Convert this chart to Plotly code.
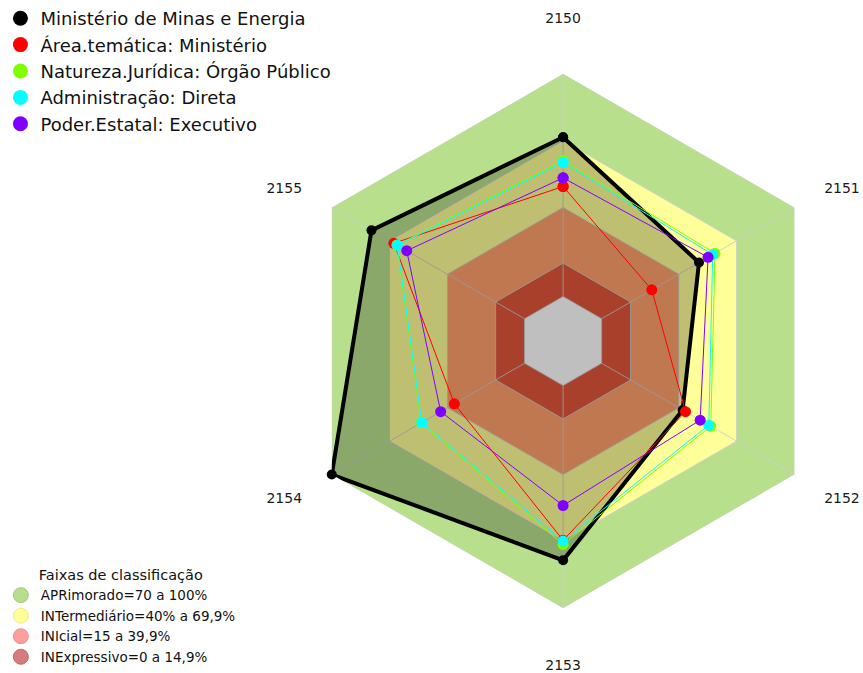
import plotly.graph_objects as go

# ---------------- data ----------------
categories = ['2150', '2151', '2152', '2153', '2154', '2155']
# labels shown by each of the two overlaid angular axes (blank = shown by the other one)
side_labels = ['', '2151', '2152', '', '2154', '2155']
vertical_labels = ['2150', '', '', '2153', '', '']

series_names = [
    'Ministério de Minas e Energia',
    'Área.temática: Ministério',
    'Natureza.Jurídica: Órgão Público',
    'Administração: Direta',
    'Poder.Estatal: Executivo',
]
minas = [71.5, 50.5, 42.0, 78.5, 100.0, 79.4]
area_tematica = [49.4, 26.0, 43.5, 69.5, 36.4, 67.8]
natureza = [61.0, 58.8, 56.6, 71.4, 53.6, 66.2]
administracao = [60.3, 57.6, 55.6, 69.9, 53.3, 66.0]
poder = [53.3, 55.2, 51.1, 53.9, 43.5, 61.1]
series_values = [minas, area_tematica, natureza, administracao, poder]
series_colors = ['#000000', '#FF0000', '#80FF00', '#00FFFF', '#8000FF']

band_names = ['APRimorado=70 a 100%', 'INTermediário=40% a 69,9%',
              'INIcial=15 a 39,9%', 'INExpressivo=0 a 14,9%']
band_upper = [100, 70, 40, 15, 0]
band_fill = ['#B8E08C', '#FFFF99', '#FFA06B', '#E0563B', '#FFFFFF']
band_legend_colors = ['#B6DE8C', '#FFFF99', '#FF9E9E', '#D67C7C']
band_legend_lines = ['#A3CC7A', '#EDED8A', '#EE8E8E', '#C06A6A']
grid_levels = [0, 15, 40, 70, 100]
radial_range = [-20, 100]

FONT = 'DejaVu Sans, Liberation Sans, Arial, sans-serif'


def closed(vals):
    return list(vals) + [vals[0]]


theta_closed = closed(categories)

fig = go.Figure()

# bands (outer to inner, opaque)
for up, col in zip(band_upper, band_fill):
    fig.add_trace(go.Scatterpolar(
        r=closed([up] * len(categories)), theta=theta_closed,
        mode='lines', fill='toself', fillcolor=col,
        line=dict(width=0, color=col), showlegend=False, hoverinfo='skip'))

# grid polygons
for lv in grid_levels:
    fig.add_trace(go.Scatterpolar(
        r=closed([lv] * len(categories)), theta=theta_closed,
        mode='lines', line=dict(width=1, color='rgba(205,205,205,0.9)'),
        showlegend=False, hoverinfo='skip'))

# spokes
for c in categories:
    fig.add_trace(go.Scatterpolar(
        r=[grid_levels[0], grid_levels[-1]], theta=[c, c],
        mode='lines', line=dict(width=1, color='rgba(205,205,205,0.9)'),
        showlegend=False, hoverinfo='skip'))

# series
for i, (name, vals, col) in enumerate(zip(series_names, series_values, series_colors)):
    if i == 0:
        fig.add_trace(go.Scatterpolar(
            r=closed(vals), theta=theta_closed, mode='lines+markers',
            fill='toself', fillcolor='rgba(0,0,0,0.25)',
            line=dict(color=col, width=4), marker=dict(size=10, color=col),
            showlegend=False, name=name))
    else:
        fig.add_trace(go.Scatterpolar(
            r=closed(vals), theta=theta_closed, mode='lines+markers',
            line=dict(color=col, width=1), marker=dict(size=11, color=col),
            showlegend=False, name=name))

# empty trace so the second (label-only) polar subplot is drawn
fig.add_trace(go.Scatterpolar(r=[None], theta=[categories[0]], subplot='polar2',
                              mode='markers', showlegend=False, hoverinfo='skip'))

# legend-only entries for series
for name, col in zip(series_names, series_colors):
    fig.add_trace(go.Scatterpolar(
        r=[None], theta=[categories[0]], mode='markers', name=name,
        marker=dict(size=15, color=col), legend='legend', showlegend=True))

# legend-only entries for bands
for name, col, lc in zip(band_names, band_legend_colors, band_legend_lines):
    fig.add_trace(go.Scatterpolar(
        r=[None], theta=[categories[0]], mode='markers', name=name,
        marker=dict(size=15, color=col, line=dict(color=lc, width=1)),
        legend='legend2', showlegend=True))

domain = dict(x=[292 / 863, 830 / 863], y=[1 - 610 / 673, 1 - 72 / 673])


def angular(ticktext, ticklen):
    return dict(
        type='category', categoryarray=categories,
        direction='clockwise', rotation=90,
        showgrid=False, showline=False, showticklabels=True,
        tickmode='array', tickvals=categories, ticktext=ticktext,
        ticks='outside', ticklen=ticklen, tickcolor='rgba(0,0,0,0)',
        tickfont=dict(size=14, color='#1a1a1a', family=FONT))


fig.update_layout(
    width=863, height=673,
    margin=dict(l=0, r=0, t=0, b=0),
    paper_bgcolor='white',
    font=dict(family=FONT, color='#222222'),
    polar=dict(
        domain=domain, bgcolor='white', gridshape='linear',
        radialaxis=dict(range=radial_range, visible=False, showgrid=False),
        angularaxis=angular(side_labels, 31),
    ),
    polar2=dict(
        domain=domain, bgcolor='rgba(0,0,0,0)', gridshape='linear',
        radialaxis=dict(range=radial_range, visible=False, showgrid=False),
        angularaxis=angular(vertical_labels, 45),
    ),
    legend=dict(
        x=-0.0065, y=1.0, xanchor='left', yanchor='top',
        font=dict(size=18, color='#111111', family=FONT),
        bgcolor='rgba(0,0,0,0)', tracegroupgap=0, itemsizing='trace'),
    legend2=dict(
        x=-0.006, y=0.0, xanchor='left', yanchor='bottom',
        title=dict(text='Faixas de classificação', side='top center',
                   font=dict(size=14.5, color='#111111', family=FONT)),
        font=dict(size=13.5, color='#111111', family=FONT),
        bgcolor='rgba(0,0,0,0)', tracegroupgap=0, itemsizing='trace'),
    showlegend=True,
)

fig.write_html('out.html', config={'displayModeBar': False},
               post_script="document.body.style.margin='0';")
